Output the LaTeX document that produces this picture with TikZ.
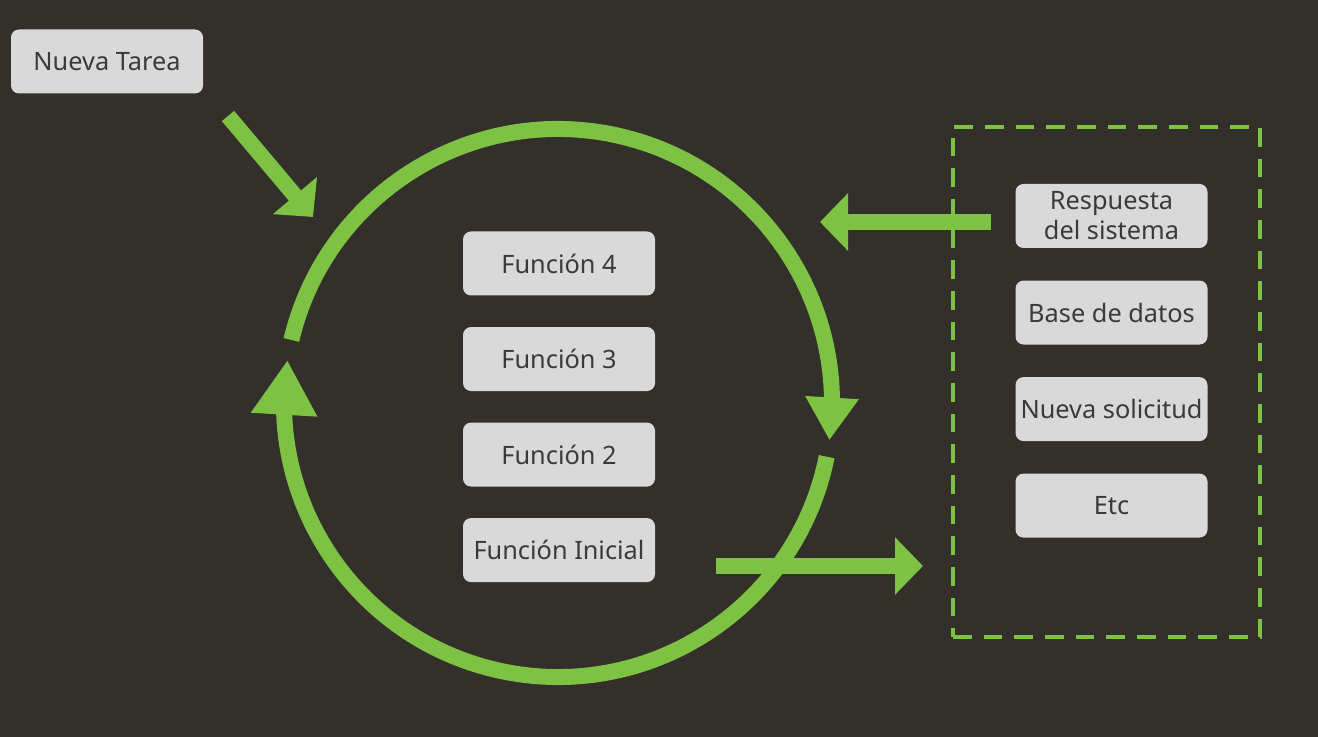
\documentclass[tikz,border=0pt]{standalone}
\usepackage{fontspec}
\setmainfont{Noto Sans}
\usetikzlibrary{arrows.meta, bending, positioning}

\definecolor{bgdark}{HTML}{332F2A}
\definecolor{leaf}{HTML}{7DC242}
\definecolor{boxgray}{HTML}{D9D9D9}
\definecolor{inkgray}{HTML}{3A3A3A}

\begin{document}
\begin{tikzpicture}[
  x=0.75pt, y=0.75pt,
  node distance=23.25pt,
  box/.style={rectangle, rounded corners=6pt, fill=boxgray, text=inkgray,
              align=center, minimum width=144pt, minimum height=48pt,
              inner sep=0pt, font=\fontsize{19}{22.5}\selectfont},
  ring/.style={draw=leaf, line width=12pt},
  garr/.style={-{Triangle[width=42pt, length=21pt]}, draw=leaf, line width=12pt},
  extbox/.style={draw=leaf, line width=3pt, dash pattern=on 14pt off 9pt}
]
\path[use as bounding box, fill=bgdark] (0,0) rectangle (1318,-737);

% loop
\coordinate (cen) at (558,-403);
\draw[ring, -{Triangle[width=38pt, length=32pt, flex]}]
  (cen) ++(166.7:205.5pt) arc[start angle=166.7, end angle=-7.8, radius=205.5pt];
\draw[ring, -{Triangle[width=47pt, length=41pt, flex]}]
  (cen) ++(-11.3:205.5pt) arc[start angle=-11.3, end angle=-189, radius=205.5pt];

\node[box] (task) at (107,-61.5) {Nueva Tarea};

\node[box] (f4) at (559,-263.5) {Función 4};
\node[box, below=of f4] (f3) {Función 3};
\node[box, below=of f3] (f2) {Función 2};
\node[box, below=of f2] (f1) {Función Inicial};

\node[extbox, minimum width=230.25pt, minimum height=382.5pt] (ext) at (1106.5,-382) {};
\node[box] (resp) at (1111.5,-216) {Respuesta\\del sistema};
\node[box, below=24pt of resp] (db)  {Base de datos};
\node[box, below=24pt of db]   (req) {Nueva solicitud};
\node[box, below=24pt of req]  (etc) {Etc};

\coordinate (taskout) at (228,-116);
\coordinate (taskin)  at (313,-217);
\coordinate (respout) at (991,-222);
\coordinate (respin)  at (820,-222);
\coordinate (f1out)   at (716,-566);
\coordinate (f1in)    at (923,-566);

\draw[garr] (taskout) -- (taskin);
\draw[garr] (respout) -- (respin);
\draw[garr] (f1out)   -- (f1in);
\end{tikzpicture}
\end{document}
